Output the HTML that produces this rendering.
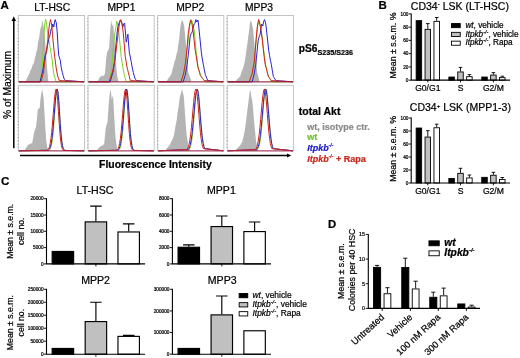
<!DOCTYPE html>
<html lang="en">
<head>
<meta charset="utf-8">
<title>Figure</title>
<style>
html,body{margin:0;padding:0;background:#fff;}
body{width:520px;height:358px;overflow:hidden;}
svg{display:block;font-family:"Liberation Sans", Arial, sans-serif;filter:blur(0.45px);}
svg text{font-family:"Liberation Sans", Arial, sans-serif;stroke:#000;stroke-width:0.22px;}
svg text.c1{stroke:#8c8c8c;}svg text.c2{stroke:#72c02c;}svg text.c3{stroke:#1c1ccc;}svg text.c4{stroke:#c8281e;}
</style>
</head>
<body>
<svg width="520" height="358" viewBox="0 0 520 358">
<rect x="0" y="0" width="520" height="358" fill="#fff"/>
<rect x="18.3" y="15.5" width="66.3" height="66.6" fill="#fff" stroke="#bdbdbd" stroke-width="0.9"/>
<line x1="18.1" y1="18" x2="18.1" y2="81.1" stroke="#8a8a8a" stroke-width="1.1" stroke-dasharray="0.6 2.7"/>
<polygon points="26,82.1 26,80.5 26.75,78.97 27.5,77.35 28.25,75.65 29,74.4 29.73,72.86 30.46,70.31 31.19,69.28 31.91,67.22 32.64,64.78 33.37,64.05 34.1,62.3 34.85,57.84 35.6,56.02 36.35,51.52 37.1,50.2 38.1,42.06 39.1,38.2 39.95,32.08 40.8,27 41.5,26.15 42.2,20 43.2,24 44.2,32 45.2,42.02 46.2,56 47.4,72 48.2,80 48.2,82.1" fill="#b4b4b4"/>
<polyline points="18.8,81.8 40.1,81.8 41.05,75.79 42,70 42.75,57.72 43.5,45 44.6,26 45.6,19 46.6,24 47.8,34 48.5,39.37 49.2,42 50,47.19 50.8,52 51.5,55.81 52.2,60 53.2,70 54.2,76 55.2,78.9 56.2,81.8 84.1,81.8" fill="none" stroke="#7ed321" stroke-width="1.0" stroke-linejoin="round"/>
<polyline points="18.8,81.8 40,81.8 40.83,78.64 41.67,75.06 42.5,72 43.4,66.72 44.3,60.36 45.2,55 46.6,52 47.4,46.13 48.2,42 49,37.85 49.8,36 50.5,31.84 51.2,29 52,27.72 52.8,24 53.8,27 54.5,21.99 55.2,19.6 56.3,23 57.2,32 58,46 58.7,55.3 59.5,57.94 60.3,60.3 61.3,68 62.3,72.4 63.05,75.26 63.8,78 64.55,79.3 65.3,80.6 84.1,81.8" fill="none" stroke="#2a22d6" stroke-width="1.0" stroke-linejoin="round"/>
<polyline points="18.8,81.8 41,81.8 41.83,78.5 42.67,75.29 43.5,72 44.4,64.83 45.3,57.95 46.2,52 47.6,42 49,28 49.8,22.61 50.6,19.6 51.8,26 52.5,34.6 53.2,42 54.6,56 55.4,61.9 56.2,68 57.6,76 58.45,78.25 59.3,80.6 84.1,81.8" fill="none" stroke="#d0201c" stroke-width="1.0" stroke-linejoin="round"/>
<line x1="18.8" y1="81.8" x2="84.1" y2="81.8" stroke="#a01838" stroke-width="0.9"/>
<rect x="88" y="15.5" width="66.2" height="66.6" fill="#fff" stroke="#bdbdbd" stroke-width="0.9"/>
<line x1="87.8" y1="18" x2="87.8" y2="81.1" stroke="#8a8a8a" stroke-width="1.1" stroke-dasharray="0.6 2.7"/>
<polygon points="98,82.1 98,80.5 99,78.75 100,77 101,76.26 102,75.4 103,75.66 104,76 105.1,72.4 106,60 107.1,52.2 108.2,50 109.1,48.2 110.2,30 111.2,20 112.2,26 113.2,24 114.2,38 115.2,52 116.2,66 117.2,76 118.2,80.5 118.2,82.1" fill="#b4b4b4"/>
<polyline points="88.5,81.8 109.1,81.8 109.9,77.81 110.7,74.1 111.5,70 112.35,61.29 113.2,52 114,42.3 114.8,34 115.8,27.78 116.8,21 118,26 119.2,36 120.2,46 121.2,56.3 122.6,66 123.4,70.22 124.2,74.4 125.2,78.2 126.2,81.8 153.7,81.8" fill="none" stroke="#7ed321" stroke-width="1.0" stroke-linejoin="round"/>
<polyline points="88.5,81.8 110.2,81.8 111.13,78.59 112.07,75.17 113,72 113.9,66.68 114.8,60.3 116,44 117.2,32 118,26.56 118.8,24 119.5,21.66 120.2,20 121.6,22 122.8,27 123.8,24 124.6,23 125.4,32 126.2,42.2 127.1,38 127.9,34.1 128.6,44 129.3,52.2 130.3,57 131.3,62.3 132.3,68 133.3,72.4 134.05,75.32 134.8,78 135.55,79.3 136.3,80.6 153.7,81.8" fill="none" stroke="#2a22d6" stroke-width="1.0" stroke-linejoin="round"/>
<polyline points="88.5,81.8 109,81.8 109.7,79.84 110.4,77.78 111.1,75.92 111.8,73.71 112.5,72 113.4,67.6 114.3,63.22 115.2,58.3 116,51.31 116.8,44 117.5,39.15 118.2,32 119.6,23 120.8,19.6 122,24 123.2,32 124.2,44 125.2,56.3 126,60.88 126.8,66 127.55,69.37 128.3,72.4 129.3,76.54 130.3,80.6 153.7,81.8" fill="none" stroke="#d0201c" stroke-width="1.0" stroke-linejoin="round"/>
<line x1="88.5" y1="81.8" x2="153.7" y2="81.8" stroke="#a01838" stroke-width="0.9"/>
<rect x="157.7" y="15.5" width="66.1" height="66.6" fill="#fff" stroke="#bdbdbd" stroke-width="0.9"/>
<line x1="157.5" y1="18" x2="157.5" y2="81.1" stroke="#8a8a8a" stroke-width="1.1" stroke-dasharray="0.6 2.7"/>
<polygon points="167,82.1 167,80.5 167.82,79.28 168.64,78.1 169.46,76.81 170.28,75.9 171.1,74.4 171.9,72.2 172.7,68.71 173.5,66.3 174.3,61.99 175.1,60.3 175.85,57.47 176.6,53.83 177.35,51.92 178.1,46.2 179.15,39.1 180.2,28 181.2,22.27 182.2,20 183.2,22 184.2,26 185.2,36.39 186.2,48.2 187.2,60.8 188.2,72.4 188.95,73.95 189.7,76.42 190.45,78.33 191.2,80.5 191.2,82.1" fill="#b4b4b4"/>
<polyline points="158.2,81.8 181.2,81.8 181.9,79.35 182.6,76.77 183.3,74.22 184,72 184.73,67.7 185.47,62.38 186.2,58.3 186.9,51.63 187.6,46 188.8,34 190,24 191.2,19.6 191.9,20.84 192.6,23 193.4,27.94 194.2,30 195.2,40 196.2,52.2 197.3,61 198.3,68.3 199.05,69.99 199.8,72.32 200.55,74.4 201.3,76.4 202.1,77.6 202.9,78.63 203.7,79.64 204.5,80.72 205.3,81.8 223.3,81.8" fill="none" stroke="#7ed321" stroke-width="1.0" stroke-linejoin="round"/>
<polyline points="158.2,81.8 183.2,81.8 183.97,79.2 184.73,76.73 185.5,74 186.35,68.95 187.2,64.3 188,57 188.8,50 190.2,36.1 191.2,33.58 192.2,32 193.2,27 194.2,24 195,23.41 195.8,19.6 196.8,22 197.9,20 198.6,25 199.3,32 200.3,42 201.3,52.2 202.3,59 203.3,64.3 204.3,69.75 205.3,74.4 206.1,76.34 206.9,78.46 207.7,80.6 223.3,81.8" fill="none" stroke="#2a22d6" stroke-width="1.0" stroke-linejoin="round"/>
<polyline points="158.2,81.8 181,81.8 181.83,79.2 182.67,76.5 183.5,74 184.55,67.9 185.6,62.3 186.3,55.12 187,48 188.2,34 188.9,29.33 189.6,24 190.8,20 192,24 193.2,32 194.2,41 195.2,50.2 196.03,55.13 196.87,60.21 197.7,66.3 198.57,69.26 199.43,72.28 200.3,75.4 201.1,76.46 201.9,77.62 202.7,78.56 203.5,79.56 204.3,80.6 223.3,81.8" fill="none" stroke="#d0201c" stroke-width="1.0" stroke-linejoin="round"/>
<line x1="158.2" y1="81.8" x2="223.3" y2="81.8" stroke="#a01838" stroke-width="0.9"/>
<rect x="227.2" y="15.5" width="66.2" height="66.6" fill="#fff" stroke="#bdbdbd" stroke-width="0.9"/>
<line x1="227" y1="18" x2="227" y2="81.1" stroke="#8a8a8a" stroke-width="1.1" stroke-dasharray="0.6 2.7"/>
<polygon points="236.1,82.1 236.1,80.5 236.9,79.68 237.7,78.86 238.5,78.05 239.3,77.29 240.1,76.4 240.9,74.17 241.7,70.94 242.5,69.83 243.3,67.3 244.1,64.3 244.85,60.91 245.6,56.34 246.35,50.26 247.1,46.2 248.15,37.49 249.2,30 250,22.13 250.8,20.5 252,24 253.2,30 254.2,41.76 255.2,52 256.2,61.02 257.2,72.4 258.2,76.14 259.2,80.5 259.2,82.1" fill="#b4b4b4"/>
<polyline points="227.7,81.8 249.4,81.8 250.33,79.2 251.27,76.49 252.2,74 252.93,69.82 253.67,66.03 254.4,62.3 255.4,49.26 256.4,38.2 257.6,26 258.8,19.8 260,24 260.8,28 261.67,33.09 262.53,40.48 263.4,48.2 264.4,55.54 265.4,64.3 266.17,67.19 266.95,69.97 267.73,73.6 268.5,76.4 269.25,77.78 270,79.1 270.75,80.45 271.5,81.8 292.9,81.8" fill="none" stroke="#7ed321" stroke-width="1.0" stroke-linejoin="round"/>
<polyline points="227.7,81.8 252.2,81.8 253.2,77.8 254.2,74 255,68.93 255.8,64.3 257.2,50 258.2,40.2 259.2,36.67 260.2,34.1 260.9,28.55 261.6,24 262.8,26 263.7,21.24 264.6,19.6 265.8,24 266.7,32 267.7,41 268.7,50.2 269.57,55.56 270.43,60.37 271.3,64.3 272.3,70.32 273.3,76.4 274.17,77.8 275.03,79.2 275.9,80.6 292.9,81.8" fill="none" stroke="#2a22d6" stroke-width="1.0" stroke-linejoin="round"/>
<polyline points="227.7,81.8 249.2,81.8 249.9,79.85 250.6,77.79 251.3,75.79 252,74 252.73,69.97 253.47,65.94 254.2,62.3 255.2,50.98 256.2,38.2 257.4,26 258.6,19.6 259.6,23 260.6,28 261.47,33.62 262.33,40.12 263.2,48.2 264.2,57.06 265.2,64.3 265.98,67.35 266.75,70.07 267.52,73.4 268.3,76.4 269.05,77.31 269.8,78.51 270.55,79.55 271.3,80.6 292.9,81.8" fill="none" stroke="#d0201c" stroke-width="1.0" stroke-linejoin="round"/>
<line x1="227.7" y1="81.8" x2="292.9" y2="81.8" stroke="#a01838" stroke-width="0.9"/>
<rect x="18.3" y="85.3" width="66.3" height="65.8" fill="#fff" stroke="#bdbdbd" stroke-width="0.9"/>
<line x1="18.1" y1="87.8" x2="18.1" y2="150.1" stroke="#8a8a8a" stroke-width="1.1" stroke-dasharray="0.6 2.7"/>
<polygon points="25,151.1 25,149.5 25.75,148.32 26.5,147.37 27.25,146.21 28,144.8 28.82,144.68 29.64,144.03 30.46,143.84 31.28,143.36 32.1,143.4 33.1,138.33 34.1,132.3 35.1,129.4 36.1,126.3 36.9,119.51 37.7,110.2 38.7,108.22 39.7,108.2 40.45,99.18 41.2,94 42.2,89 43.6,98 44.8,118.2 45.5,130.22 46.2,140.4 47,145.33 47.8,149.5 47.8,151.1" fill="#b4b4b4"/>
<polyline points="18.8,150.8 48.3,150.59 49.05,150.28 49.8,149.61 50.55,148.28 51.3,145.87 52.05,141.88 52.8,135.9 53.55,127.79 54.3,117.96 55.05,107.49 55.8,98.03 56.55,91.39 57.3,89 58.05,92.07 58.8,100.39 59.55,111.72 60.3,123.44 61.05,133.5 61.8,140.92 62.55,145.7 63.3,148.43 64.05,149.8 64.8,150.42 84.1,150.8" fill="none" stroke="#7ed321" stroke-width="1.0" stroke-linejoin="round"/>
<polyline points="18.8,150.8 48.2,150.3 48.95,149.72 49.7,148.62 50.45,146.68 51.2,143.53 51.95,138.8 52.7,132.26 53.45,124.01 54.2,114.61 54.95,105.06 55.7,96.74 56.45,91.03 57.2,89 57.95,92.07 58.7,100.39 59.45,111.72 60.2,123.44 60.95,133.5 61.7,140.92 62.45,145.7 63.2,148.43 63.95,149.8 64.7,150.42 84.1,150.8" fill="none" stroke="#2a22d6" stroke-width="1.0" stroke-linejoin="round"/>
<polyline points="18.8,150.8 47.2,150.3 47.95,149.72 48.7,148.62 49.45,146.68 50.2,143.53 50.95,138.8 51.7,132.26 52.45,124.01 53.2,114.61 53.95,105.06 54.7,96.74 55.45,91.03 56.2,89 56.95,92.07 57.7,100.39 58.45,111.72 59.2,123.44 59.95,133.5 60.7,140.92 61.45,145.7 62.2,148.43 62.95,149.8 63.7,150.42 84.1,150.8" fill="none" stroke="#d0201c" stroke-width="1.0" stroke-linejoin="round"/>
<line x1="18.8" y1="150.8" x2="84.1" y2="150.8" stroke="#b02050" stroke-width="0.9"/>
<rect x="88" y="85.3" width="66.2" height="65.8" fill="#fff" stroke="#bdbdbd" stroke-width="0.9"/>
<line x1="87.8" y1="87.8" x2="87.8" y2="150.1" stroke="#8a8a8a" stroke-width="1.1" stroke-dasharray="0.6 2.7"/>
<polygon points="97.5,151.1 97.5,149.5 98.37,148.47 99.23,147.58 100.1,146.4 100.9,146.19 101.7,145.82 102.5,145.38 103.3,144.58 104.1,144.4 104.9,136.38 105.7,128.3 106.6,124.74 107.5,122.2 108.7,104 109.75,93.47 110.8,90 111.8,100 112.8,95 113.5,102.63 114.2,116.2 115.6,138.3 116.4,143.7 117.2,149.5 117.2,151.1" fill="#b4b4b4"/>
<polyline points="88.5,150.8 117.7,150.59 118.45,150.28 119.2,149.61 119.95,148.28 120.7,145.87 121.45,141.88 122.2,135.9 122.95,127.79 123.7,117.96 124.45,107.49 125.2,98.03 125.95,91.39 126.7,89 127.45,92.07 128.2,100.39 128.95,111.72 129.7,123.44 130.45,133.5 131.2,140.92 131.95,145.7 132.7,148.43 133.45,149.8 134.2,150.42 153.7,150.8" fill="none" stroke="#7ed321" stroke-width="1.0" stroke-linejoin="round"/>
<polyline points="88.5,150.8 117.6,150.3 118.35,149.72 119.1,148.62 119.85,146.68 120.6,143.53 121.35,138.8 122.1,132.26 122.85,124.01 123.6,114.61 124.35,105.06 125.1,96.74 125.85,91.03 126.6,89 127.35,92.07 128.1,100.39 128.85,111.72 129.6,123.44 130.35,133.5 131.1,140.92 131.85,145.7 132.6,148.43 133.35,149.8 134.1,150.42 153.7,150.8" fill="none" stroke="#2a22d6" stroke-width="1.0" stroke-linejoin="round"/>
<polyline points="88.5,150.8 116.6,150.3 117.35,149.72 118.1,148.62 118.85,146.68 119.6,143.53 120.35,138.8 121.1,132.26 121.85,124.01 122.6,114.61 123.35,105.06 124.1,96.74 124.85,91.03 125.6,89 126.35,92.07 127.1,100.39 127.85,111.72 128.6,123.44 129.35,133.5 130.1,140.92 130.85,145.7 131.6,148.43 132.35,149.8 133.1,150.42 153.7,150.8" fill="none" stroke="#d0201c" stroke-width="1.0" stroke-linejoin="round"/>
<line x1="88.5" y1="150.8" x2="153.7" y2="150.8" stroke="#b02050" stroke-width="0.9"/>
<rect x="157.7" y="85.3" width="66.1" height="65.8" fill="#fff" stroke="#bdbdbd" stroke-width="0.9"/>
<line x1="157.5" y1="87.8" x2="157.5" y2="150.1" stroke="#8a8a8a" stroke-width="1.1" stroke-dasharray="0.6 2.7"/>
<polygon points="166,151.1 166,149.5 166.82,148.48 167.64,147.36 168.46,146.55 169.28,145.74 170.1,144.4 170.9,142.32 171.7,140.98 172.5,139.17 173.3,137.22 174.1,134.3 174.97,129.2 175.83,123.9 176.7,120.2 177.7,111.72 178.7,106.1 179.4,100.01 180.1,95.86 180.8,94 182.2,89 183,93.51 183.8,96 185.2,116.2 186,127.61 186.8,136.3 187.8,142.26 188.8,147.4 190.2,149.5 190.2,151.1" fill="#b4b4b4"/>
<polyline points="158.2,150.8 188.31,150.22 189.06,149.58 189.81,148.39 190.56,146.34 191.31,143.05 192.06,138.2 192.81,131.58 193.56,123.34 194.31,114.03 195.06,104.65 195.81,96.52 196.56,90.97 197.31,89 198.06,91.03 198.81,96.74 199.56,105.06 200.31,114.61 201.06,124.01 201.81,132.26 202.56,138.8 203.31,143.53 204.06,146.68 204.81,148.62 223.3,150.8" fill="none" stroke="#7ed321" stroke-width="1.0" stroke-linejoin="round"/>
<polyline points="158.2,150.8 188.18,149.62 188.93,148.57 189.68,146.84 190.43,144.12 191.18,140.14 191.93,134.71 192.68,127.81 193.43,119.7 194.18,110.98 194.93,102.53 195.68,95.43 196.43,90.67 197.18,89 197.93,91.03 198.68,96.74 199.43,105.06 200.18,114.61 200.93,124.01 201.68,132.26 202.43,138.8 203.18,143.53 203.93,146.68 204.68,148.62 223.3,150.8" fill="none" stroke="#2a22d6" stroke-width="1.0" stroke-linejoin="round"/>
<polyline points="158.2,150.8 186.88,149.62 187.63,148.57 188.38,146.84 189.13,144.12 189.88,140.14 190.63,134.71 191.38,127.81 192.13,119.7 192.88,110.98 193.63,102.53 194.38,95.43 195.13,90.67 195.88,89 196.63,91.03 197.38,96.74 198.13,105.06 198.88,114.61 199.63,124.01 200.38,132.26 201.13,138.8 201.88,143.53 202.63,146.68 203.38,148.62 223.3,150.8" fill="none" stroke="#d0201c" stroke-width="1.0" stroke-linejoin="round"/>
<line x1="158.2" y1="150.8" x2="223.3" y2="150.8" stroke="#b02050" stroke-width="0.9"/>
<rect x="227.2" y="85.3" width="66.2" height="65.8" fill="#fff" stroke="#bdbdbd" stroke-width="0.9"/>
<line x1="227" y1="87.8" x2="227" y2="150.1" stroke="#8a8a8a" stroke-width="1.1" stroke-dasharray="0.6 2.7"/>
<polygon points="236.1,151.1 236.1,149.5 236.85,148.72 237.6,147.95 238.35,147.17 239.1,146.4 239.85,145.51 240.6,144.66 241.35,142.99 242.1,142.4 242.85,139.14 243.6,136.22 244.35,132.56 245.1,128.3 246.1,121.31 247.1,112.2 248.15,103.96 249.2,96 249.9,90.67 250.6,90.5 251.4,97.49 252.2,100 253.2,110.18 254.2,122.2 255.2,133.07 256.2,142.4 257,146.25 257.8,149.5 257.8,151.1" fill="#b4b4b4"/>
<polyline points="227.7,150.8 256.81,150.22 257.56,149.58 258.31,148.39 259.06,146.34 259.81,143.05 260.56,138.2 261.31,131.58 262.06,123.34 262.81,114.03 263.56,104.65 264.31,96.52 265.06,90.97 265.81,89 266.56,91.03 267.31,96.74 268.06,105.06 268.81,114.61 269.56,124.01 270.31,132.26 271.06,138.8 271.81,143.53 272.56,146.68 273.31,148.62 292.9,150.8" fill="none" stroke="#7ed321" stroke-width="1.0" stroke-linejoin="round"/>
<polyline points="227.7,150.8 256.68,149.62 257.43,148.57 258.18,146.84 258.93,144.12 259.68,140.14 260.43,134.71 261.18,127.81 261.93,119.7 262.68,110.98 263.43,102.53 264.18,95.43 264.93,90.67 265.68,89 266.43,91.03 267.18,96.74 267.93,105.06 268.68,114.61 269.43,124.01 270.18,132.26 270.93,138.8 271.68,143.53 272.43,146.68 273.18,148.62 292.9,150.8" fill="none" stroke="#2a22d6" stroke-width="1.0" stroke-linejoin="round"/>
<polyline points="227.7,150.8 255.38,149.62 256.13,148.57 256.88,146.84 257.63,144.12 258.38,140.14 259.13,134.71 259.88,127.81 260.63,119.7 261.38,110.98 262.13,102.53 262.88,95.43 263.63,90.67 264.38,89 265.13,91.03 265.88,96.74 266.63,105.06 267.38,114.61 268.13,124.01 268.88,132.26 269.63,138.8 270.38,143.53 271.13,146.68 271.88,148.62 292.9,150.8" fill="none" stroke="#d0201c" stroke-width="1.0" stroke-linejoin="round"/>
<line x1="227.7" y1="150.8" x2="292.9" y2="150.8" stroke="#b02050" stroke-width="0.9"/>
<line x1="13.8" y1="148.3" x2="13.8" y2="20" stroke="#000" stroke-width="1.5"/>
<polygon points="13.8,16.3 11.6,21 16,21" fill="#000"/>
<line x1="20" y1="155.5" x2="288" y2="155.5" stroke="#000" stroke-width="1.5"/>
<polygon points="291.3,155.5 287,153.5 287,157.5" fill="#000"/>
<text x="0.5" y="9.3" font-size="11.5" text-anchor="start" font-weight="bold" font-style="normal" fill="#000">A</text>
<text x="378.5" y="9.3" font-size="11.5" text-anchor="start" font-weight="bold" font-style="normal" fill="#000">B</text>
<text x="0.9" y="185.4" font-size="11.6" text-anchor="start" font-weight="bold" font-style="normal" fill="#000">C</text>
<text x="327.9" y="227.7" font-size="11.3" text-anchor="start" font-weight="bold" font-style="normal" fill="#000">D</text>
<text x="52.2" y="10.7" font-size="10.3" text-anchor="middle" font-weight="normal" font-style="normal" fill="#000">LT-HSC</text>
<text x="121.4" y="10.7" font-size="10.3" text-anchor="middle" font-weight="normal" font-style="normal" fill="#000">MPP1</text>
<text x="190.3" y="10.7" font-size="10.3" text-anchor="middle" font-weight="normal" font-style="normal" fill="#000">MPP2</text>
<text x="259" y="10.7" font-size="10.3" text-anchor="middle" font-weight="normal" font-style="normal" fill="#000">MPP3</text>
<text transform="translate(10.6 85) rotate(-90)" font-size="10.3" text-anchor="middle" font-weight="normal" fill="#000">% of Maximum</text>
<text x="155.4" y="167.5" font-size="10.4" text-anchor="middle" font-weight="bold" font-style="normal" fill="#000">Fluorescence Intensity</text>
<text x="298.8" y="52" font-size="10.2" font-weight="bold">pS6<tspan font-size="7.2" dy="3">S235/S236</tspan></text>
<text x="298.8" y="115" font-size="10.5" text-anchor="start" font-weight="bold" font-style="normal" fill="#000">total Akt</text>
<text x="307.2" y="129.6" font-size="9" text-anchor="start" font-weight="bold" font-style="normal" fill="#8c8c8c" class="c1">wt, isotype ctr.</text>
<text x="307.2" y="140.2" font-size="9" text-anchor="start" font-weight="bold" font-style="normal" fill="#72c02c" class="c2">wt</text>
<text class="c3" x="307.2" y="150.8" font-size="9" font-weight="bold" font-style="italic" fill="#1c1ccc">Itpkb<tspan font-size="5" dy="-3.6">-/-</tspan></text>
<text class="c4" x="307.2" y="161.6" font-size="9" font-weight="bold" fill="#c8281e"><tspan font-style="italic">Itpkb</tspan><tspan font-size="5" dy="-3.6" font-style="italic">-/-</tspan><tspan dy="3.6"> + Rapa</tspan></text>
<text x="410.8" y="9.8" font-size="10.5">CD34<tspan font-size="6.2" dy="-3.8">-</tspan><tspan dy="3.8"> LSK (LT-HSC)</tspan></text>
<rect x="416.15" y="20.65" width="5.5" height="59.5" fill="#000" stroke="#000" stroke-width="0.9"/>
<path d="M427.8 28.9 V23.6 M426 23.6 H429.6" stroke="#000" stroke-width="0.9" fill="none"/>
<rect x="425.05" y="29.35" width="5.5" height="50.8" fill="#c0c0c0" stroke="#000" stroke-width="0.9"/>
<path d="M436.7 20.9 V17.5 M434.9 17.5 H438.5" stroke="#000" stroke-width="0.9" fill="none"/>
<rect x="433.95" y="21.35" width="5.5" height="58.8" fill="#fff" stroke="#000" stroke-width="0.9"/>
<rect x="448.85" y="77.05" width="5.5" height="3.1" fill="#000" stroke="#000" stroke-width="0.9"/>
<path d="M460.5 71.5 V67.4 M458.7 67.4 H462.3" stroke="#000" stroke-width="0.9" fill="none"/>
<rect x="457.75" y="71.95" width="5.5" height="8.2" fill="#c0c0c0" stroke="#000" stroke-width="0.9"/>
<path d="M469.4 76.2 V74.6 M467.6 74.6 H471.2" stroke="#000" stroke-width="0.9" fill="none"/>
<rect x="466.65" y="76.65" width="5.5" height="3.5" fill="#fff" stroke="#000" stroke-width="0.9"/>
<rect x="481.75" y="77.05" width="5.5" height="3.1" fill="#000" stroke="#000" stroke-width="0.9"/>
<path d="M493.4 74.6 V72.6 M491.6 72.6 H495.2" stroke="#000" stroke-width="0.9" fill="none"/>
<rect x="490.65" y="75.05" width="5.5" height="5.1" fill="#c0c0c0" stroke="#000" stroke-width="0.9"/>
<path d="M502.3 77.2 V76.2 M500.5 76.2 H504.1" stroke="#000" stroke-width="0.9" fill="none"/>
<rect x="499.55" y="77.65" width="5.5" height="2.5" fill="#fff" stroke="#000" stroke-width="0.9"/>
<path d="M411.2 13.4 V80.15 H510" stroke="#000" stroke-width="1.1" fill="none"/>
<line x1="408.8" y1="80.15" x2="411.2" y2="80.15" stroke="#000" stroke-width="0.9"/>
<text x="408.4" y="81.8" font-size="4.7" text-anchor="end" font-weight="normal" font-style="normal" fill="#000">0</text>
<line x1="408.8" y1="66.9" x2="411.2" y2="66.9" stroke="#000" stroke-width="0.9"/>
<text x="408.4" y="68.55" font-size="4.7" text-anchor="end" font-weight="normal" font-style="normal" fill="#000">20</text>
<line x1="408.8" y1="53.65" x2="411.2" y2="53.65" stroke="#000" stroke-width="0.9"/>
<text x="408.4" y="55.3" font-size="4.7" text-anchor="end" font-weight="normal" font-style="normal" fill="#000">40</text>
<line x1="408.8" y1="40.4" x2="411.2" y2="40.4" stroke="#000" stroke-width="0.9"/>
<text x="408.4" y="42.05" font-size="4.7" text-anchor="end" font-weight="normal" font-style="normal" fill="#000">60</text>
<line x1="408.8" y1="27.15" x2="411.2" y2="27.15" stroke="#000" stroke-width="0.9"/>
<text x="408.4" y="28.8" font-size="4.7" text-anchor="end" font-weight="normal" font-style="normal" fill="#000">80</text>
<line x1="408.8" y1="13.9" x2="411.2" y2="13.9" stroke="#000" stroke-width="0.9"/>
<text x="408.4" y="15.55" font-size="4.7" text-anchor="end" font-weight="normal" font-style="normal" fill="#000">100</text>
<line x1="427.8" y1="80.15" x2="427.8" y2="82.45" stroke="#000" stroke-width="0.9"/>
<line x1="460.5" y1="80.15" x2="460.5" y2="82.45" stroke="#000" stroke-width="0.9"/>
<line x1="493.4" y1="80.15" x2="493.4" y2="82.45" stroke="#000" stroke-width="0.9"/>
<text x="427.8" y="91.05" font-size="8.6" text-anchor="middle" font-weight="normal" font-style="normal" fill="#000">G0/G1</text>
<text x="460.5" y="91.05" font-size="8.6" text-anchor="middle" font-weight="normal" font-style="normal" fill="#000">S</text>
<text x="493.4" y="91.05" font-size="8.6" text-anchor="middle" font-weight="normal" font-style="normal" fill="#000">G2/M</text>
<text transform="translate(396.3 45.43) rotate(-90)" font-size="8.8" text-anchor="middle" font-weight="normal" fill="#000">Mean ± s.e.m. %</text>
<text x="409.8" y="111.3" font-size="10.5">CD34<tspan font-size="6.2" dy="-3.8">+</tspan><tspan dy="3.8"> LSK (MPP1-3)</tspan></text>
<rect x="416.15" y="128.05" width="5.5" height="54.95" fill="#000" stroke="#000" stroke-width="0.9"/>
<path d="M427.8 136.6 V130.7 M426 130.7 H429.6" stroke="#000" stroke-width="0.9" fill="none"/>
<rect x="425.05" y="137.05" width="5.5" height="45.95" fill="#c0c0c0" stroke="#000" stroke-width="0.9"/>
<path d="M436.7 127.3 V124.2 M434.9 124.2 H438.5" stroke="#000" stroke-width="0.9" fill="none"/>
<rect x="433.95" y="127.75" width="5.5" height="55.25" fill="#fff" stroke="#000" stroke-width="0.9"/>
<rect x="448.85" y="178.45" width="5.5" height="4.55" fill="#000" stroke="#000" stroke-width="0.9"/>
<path d="M460.5 172.9 V168.3 M458.7 168.3 H462.3" stroke="#000" stroke-width="0.9" fill="none"/>
<rect x="457.75" y="173.35" width="5.5" height="9.65" fill="#c0c0c0" stroke="#000" stroke-width="0.9"/>
<path d="M469.4 177.5 V175 M467.6 175 H471.2" stroke="#000" stroke-width="0.9" fill="none"/>
<rect x="466.65" y="177.95" width="5.5" height="5.05" fill="#fff" stroke="#000" stroke-width="0.9"/>
<rect x="481.75" y="177.35" width="5.5" height="5.65" fill="#000" stroke="#000" stroke-width="0.9"/>
<path d="M493.4 174.8 V172.3 M491.6 172.3 H495.2" stroke="#000" stroke-width="0.9" fill="none"/>
<rect x="490.65" y="175.25" width="5.5" height="7.75" fill="#c0c0c0" stroke="#000" stroke-width="0.9"/>
<path d="M502.3 179 V177.5 M500.5 177.5 H504.1" stroke="#000" stroke-width="0.9" fill="none"/>
<rect x="499.55" y="179.45" width="5.5" height="3.55" fill="#fff" stroke="#000" stroke-width="0.9"/>
<path d="M411.2 117.5 V183 H510" stroke="#000" stroke-width="1.1" fill="none"/>
<line x1="408.8" y1="183" x2="411.2" y2="183" stroke="#000" stroke-width="0.9"/>
<text x="408.4" y="184.65" font-size="4.7" text-anchor="end" font-weight="normal" font-style="normal" fill="#000">0</text>
<line x1="408.8" y1="170" x2="411.2" y2="170" stroke="#000" stroke-width="0.9"/>
<text x="408.4" y="171.65" font-size="4.7" text-anchor="end" font-weight="normal" font-style="normal" fill="#000">20</text>
<line x1="408.8" y1="157" x2="411.2" y2="157" stroke="#000" stroke-width="0.9"/>
<text x="408.4" y="158.65" font-size="4.7" text-anchor="end" font-weight="normal" font-style="normal" fill="#000">40</text>
<line x1="408.8" y1="144" x2="411.2" y2="144" stroke="#000" stroke-width="0.9"/>
<text x="408.4" y="145.65" font-size="4.7" text-anchor="end" font-weight="normal" font-style="normal" fill="#000">60</text>
<line x1="408.8" y1="131" x2="411.2" y2="131" stroke="#000" stroke-width="0.9"/>
<text x="408.4" y="132.65" font-size="4.7" text-anchor="end" font-weight="normal" font-style="normal" fill="#000">80</text>
<line x1="408.8" y1="118" x2="411.2" y2="118" stroke="#000" stroke-width="0.9"/>
<text x="408.4" y="119.65" font-size="4.7" text-anchor="end" font-weight="normal" font-style="normal" fill="#000">100</text>
<line x1="427.8" y1="183" x2="427.8" y2="185.3" stroke="#000" stroke-width="0.9"/>
<line x1="460.5" y1="183" x2="460.5" y2="185.3" stroke="#000" stroke-width="0.9"/>
<line x1="493.4" y1="183" x2="493.4" y2="185.3" stroke="#000" stroke-width="0.9"/>
<text x="427.8" y="193.9" font-size="8.6" text-anchor="middle" font-weight="normal" font-style="normal" fill="#000">G0/G1</text>
<text x="460.5" y="193.9" font-size="8.6" text-anchor="middle" font-weight="normal" font-style="normal" fill="#000">S</text>
<text x="493.4" y="193.9" font-size="8.6" text-anchor="middle" font-weight="normal" font-style="normal" fill="#000">G2/M</text>
<text transform="translate(396.3 148.9) rotate(-90)" font-size="8.8" text-anchor="middle" font-weight="normal" fill="#000">Mean ± s.e.m. %</text>
<rect x="451.55" y="23.55" width="8.7" height="4.1" fill="#000" stroke="#000" stroke-width="0.9"/>
<text x="465.4" y="27.8" font-size="8.2"><tspan font-style="italic">wt</tspan>, vehicle</text>
<rect x="451.55" y="32.35" width="8.7" height="4.1" fill="#c0c0c0" stroke="#000" stroke-width="0.9"/>
<text x="465.4" y="36.6" font-size="8.2"><tspan font-style="italic">Itpkb</tspan><tspan font-size="5.58" dy="-3" font-style="italic">-/-</tspan><tspan dy="3">, vehicle</tspan></text>
<rect x="451.55" y="41.15" width="8.7" height="4.1" fill="#fff" stroke="#000" stroke-width="0.9"/>
<text x="465.4" y="45.4" font-size="8.2"><tspan font-style="italic">Itpkb</tspan><tspan font-size="5.58" dy="-3" font-style="italic">-/-</tspan><tspan dy="3">, Rapa</tspan></text>
<rect x="52.17" y="251.47" width="21.45" height="12.42" fill="#000" stroke="#000" stroke-width="1.15"/>
<path d="M95.9 221.3 V206.1 M90.15 206.1 H101.65" stroke="#000" stroke-width="1.15" fill="none"/>
<rect x="85.18" y="221.88" width="21.45" height="42.02" fill="#c0c0c0" stroke="#000" stroke-width="1.15"/>
<path d="M128.7 231.4 V223.8 M122.95 223.8 H134.45" stroke="#000" stroke-width="1.15" fill="none"/>
<rect x="117.97" y="231.97" width="21.45" height="31.92" fill="#fff" stroke="#000" stroke-width="1.15"/>
<path d="M46.5 198.2 V263.9 H145.1" stroke="#000" stroke-width="1.1" fill="none"/>
<line x1="43.9" y1="263.9" x2="46.5" y2="263.9" stroke="#000" stroke-width="0.9"/>
<text x="43.5" y="265.55" font-size="4.7" text-anchor="end" font-weight="normal" font-style="normal" fill="#000">0</text>
<line x1="43.9" y1="247.6" x2="46.5" y2="247.6" stroke="#000" stroke-width="0.9"/>
<text x="43.5" y="249.25" font-size="4.7" text-anchor="end" font-weight="normal" font-style="normal" fill="#000">5000</text>
<line x1="43.9" y1="231.3" x2="46.5" y2="231.3" stroke="#000" stroke-width="0.9"/>
<text x="43.5" y="232.95" font-size="4.7" text-anchor="end" font-weight="normal" font-style="normal" fill="#000">10000</text>
<line x1="43.9" y1="215" x2="46.5" y2="215" stroke="#000" stroke-width="0.9"/>
<text x="43.5" y="216.65" font-size="4.7" text-anchor="end" font-weight="normal" font-style="normal" fill="#000">15000</text>
<line x1="43.9" y1="198.7" x2="46.5" y2="198.7" stroke="#000" stroke-width="0.9"/>
<text x="43.5" y="200.35" font-size="4.7" text-anchor="end" font-weight="normal" font-style="normal" fill="#000">20000</text>
<line x1="95.9" y1="263.9" x2="95.9" y2="266.4" stroke="#000" stroke-width="0.9"/>
<text x="95" y="193.7" font-size="10.6" text-anchor="middle" font-weight="normal" font-style="normal" fill="#000">LT-HSC</text>
<text transform="translate(13.3 231.3) rotate(-90)" font-size="8.7" text-anchor="middle" font-weight="normal" fill="#000">Mean ± s.e.m.</text>
<text transform="translate(24.3 231.3) rotate(-90)" font-size="8.7" text-anchor="middle" font-weight="normal" fill="#000">cell no.</text>
<path d="M188.8 246.7 V244.9 M183.05 244.9 H194.55" stroke="#000" stroke-width="1.15" fill="none"/>
<rect x="178.07" y="247.27" width="21.45" height="16.62" fill="#000" stroke="#000" stroke-width="1.15"/>
<path d="M221.8 226 V216 M216.05 216 H227.55" stroke="#000" stroke-width="1.15" fill="none"/>
<rect x="211.07" y="226.57" width="21.45" height="37.32" fill="#c0c0c0" stroke="#000" stroke-width="1.15"/>
<path d="M254.6 231 V222 M248.85 222 H260.35" stroke="#000" stroke-width="1.15" fill="none"/>
<rect x="243.88" y="231.57" width="21.45" height="32.32" fill="#fff" stroke="#000" stroke-width="1.15"/>
<path d="M172.4 198.2 V263.9 H271" stroke="#000" stroke-width="1.1" fill="none"/>
<line x1="169.8" y1="263.9" x2="172.4" y2="263.9" stroke="#000" stroke-width="0.9"/>
<text x="169.4" y="265.55" font-size="4.7" text-anchor="end" font-weight="normal" font-style="normal" fill="#000">0</text>
<line x1="169.8" y1="247.6" x2="172.4" y2="247.6" stroke="#000" stroke-width="0.9"/>
<text x="169.4" y="249.25" font-size="4.7" text-anchor="end" font-weight="normal" font-style="normal" fill="#000">2000</text>
<line x1="169.8" y1="231.3" x2="172.4" y2="231.3" stroke="#000" stroke-width="0.9"/>
<text x="169.4" y="232.95" font-size="4.7" text-anchor="end" font-weight="normal" font-style="normal" fill="#000">4000</text>
<line x1="169.8" y1="215" x2="172.4" y2="215" stroke="#000" stroke-width="0.9"/>
<text x="169.4" y="216.65" font-size="4.7" text-anchor="end" font-weight="normal" font-style="normal" fill="#000">6000</text>
<line x1="169.8" y1="198.7" x2="172.4" y2="198.7" stroke="#000" stroke-width="0.9"/>
<text x="169.4" y="200.35" font-size="4.7" text-anchor="end" font-weight="normal" font-style="normal" fill="#000">8000</text>
<line x1="221.8" y1="263.9" x2="221.8" y2="266.4" stroke="#000" stroke-width="0.9"/>
<text x="221.4" y="193.7" font-size="10.6" text-anchor="middle" font-weight="normal" font-style="normal" fill="#000">MPP1</text>
<rect x="52.17" y="348.47" width="21.45" height="5.73" fill="#000" stroke="#000" stroke-width="1.15"/>
<path d="M95.9 321 V302.2 M90.15 302.2 H101.65" stroke="#000" stroke-width="1.15" fill="none"/>
<rect x="85.18" y="321.57" width="21.45" height="32.62" fill="#c0c0c0" stroke="#000" stroke-width="1.15"/>
<path d="M128.7 335.8 V335.3 M122.95 335.3 H134.45" stroke="#000" stroke-width="1.15" fill="none"/>
<rect x="117.97" y="336.38" width="21.45" height="17.82" fill="#fff" stroke="#000" stroke-width="1.15"/>
<path d="M46.5 288.8 V354.2 H145.1" stroke="#000" stroke-width="1.1" fill="none"/>
<line x1="43.9" y1="354.2" x2="46.5" y2="354.2" stroke="#000" stroke-width="0.9"/>
<text x="43.5" y="355.85" font-size="4.7" text-anchor="end" font-weight="normal" font-style="normal" fill="#000">0</text>
<line x1="43.9" y1="341.22" x2="46.5" y2="341.22" stroke="#000" stroke-width="0.9"/>
<text x="43.5" y="342.87" font-size="4.7" text-anchor="end" font-weight="normal" font-style="normal" fill="#000">50000</text>
<line x1="43.9" y1="328.24" x2="46.5" y2="328.24" stroke="#000" stroke-width="0.9"/>
<text x="43.5" y="329.89" font-size="4.7" text-anchor="end" font-weight="normal" font-style="normal" fill="#000">100000</text>
<line x1="43.9" y1="315.26" x2="46.5" y2="315.26" stroke="#000" stroke-width="0.9"/>
<text x="43.5" y="316.91" font-size="4.7" text-anchor="end" font-weight="normal" font-style="normal" fill="#000">150000</text>
<line x1="43.9" y1="302.28" x2="46.5" y2="302.28" stroke="#000" stroke-width="0.9"/>
<text x="43.5" y="303.93" font-size="4.7" text-anchor="end" font-weight="normal" font-style="normal" fill="#000">200000</text>
<line x1="43.9" y1="289.3" x2="46.5" y2="289.3" stroke="#000" stroke-width="0.9"/>
<text x="43.5" y="290.95" font-size="4.7" text-anchor="end" font-weight="normal" font-style="normal" fill="#000">250000</text>
<line x1="95.9" y1="354.2" x2="95.9" y2="356.7" stroke="#000" stroke-width="0.9"/>
<text x="95.6" y="283.5" font-size="10.6" text-anchor="middle" font-weight="normal" font-style="normal" fill="#000">MPP2</text>
<text transform="translate(13.3 322.7) rotate(-90)" font-size="8.7" text-anchor="middle" font-weight="normal" fill="#000">Mean ± s.e.m.</text>
<text transform="translate(24.3 322.7) rotate(-90)" font-size="8.7" text-anchor="middle" font-weight="normal" fill="#000">cell no.</text>
<rect x="178.07" y="348.47" width="21.45" height="5.73" fill="#000" stroke="#000" stroke-width="1.15"/>
<path d="M221.8 314.3 V296 M216.05 296 H227.55" stroke="#000" stroke-width="1.15" fill="none"/>
<rect x="211.07" y="314.88" width="21.45" height="39.32" fill="#c0c0c0" stroke="#000" stroke-width="1.15"/>
<rect x="243.88" y="330.77" width="21.45" height="23.43" fill="#fff" stroke="#000" stroke-width="1.15"/>
<path d="M172.4 288.8 V354.2 H271" stroke="#000" stroke-width="1.1" fill="none"/>
<line x1="169.8" y1="354.2" x2="172.4" y2="354.2" stroke="#000" stroke-width="0.9"/>
<text x="169.4" y="355.85" font-size="4.7" text-anchor="end" font-weight="normal" font-style="normal" fill="#000">0</text>
<line x1="169.8" y1="332.57" x2="172.4" y2="332.57" stroke="#000" stroke-width="0.9"/>
<text x="169.4" y="334.22" font-size="4.7" text-anchor="end" font-weight="normal" font-style="normal" fill="#000">100000</text>
<line x1="169.8" y1="310.93" x2="172.4" y2="310.93" stroke="#000" stroke-width="0.9"/>
<text x="169.4" y="312.58" font-size="4.7" text-anchor="end" font-weight="normal" font-style="normal" fill="#000">200000</text>
<line x1="169.8" y1="289.3" x2="172.4" y2="289.3" stroke="#000" stroke-width="0.9"/>
<text x="169.4" y="290.95" font-size="4.7" text-anchor="end" font-weight="normal" font-style="normal" fill="#000">300000</text>
<line x1="221.8" y1="354.2" x2="221.8" y2="356.7" stroke="#000" stroke-width="0.9"/>
<text x="222.2" y="283.5" font-size="10.6" text-anchor="middle" font-weight="normal" font-style="normal" fill="#000">MPP3</text>
<rect x="239.15" y="293.45" width="8.6" height="4.3" fill="#000" stroke="#000" stroke-width="0.9"/>
<text x="252.5" y="297.9" font-size="8.4"><tspan font-style="italic">wt</tspan>, vehicle</text>
<rect x="239.15" y="302.65" width="8.6" height="4.3" fill="#c0c0c0" stroke="#000" stroke-width="0.9"/>
<text x="252.5" y="307.1" font-size="8.4"><tspan font-style="italic">Itpkb</tspan><tspan font-size="5.71" dy="-3" font-style="italic">-/-</tspan><tspan dy="3">, vehicle</tspan></text>
<rect x="239.15" y="311.65" width="8.6" height="4.3" fill="#fff" stroke="#000" stroke-width="0.9"/>
<text x="252.5" y="316.1" font-size="8.4"><tspan font-style="italic">Itpkb</tspan><tspan font-size="5.71" dy="-3" font-style="italic">-/-</tspan><tspan dy="3">, Rapa</tspan></text>
<path d="M377.1 266.9 V265.4 M375 265.4 H379.2" stroke="#000" stroke-width="0.9" fill="none"/>
<rect x="373.55" y="267.35" width="7.1" height="41.05" fill="#000" stroke="#000" stroke-width="0.9"/>
<path d="M387.45 293.3 V287.7 M385.35 287.7 H389.55" stroke="#000" stroke-width="0.9" fill="none"/>
<rect x="384.05" y="293.75" width="6.8" height="14.65" fill="#fff" stroke="#000" stroke-width="0.9"/>
<path d="M405.3 267.1 V258.2 M403.2 258.2 H407.4" stroke="#000" stroke-width="0.9" fill="none"/>
<rect x="401.75" y="267.55" width="7.1" height="40.85" fill="#000" stroke="#000" stroke-width="0.9"/>
<path d="M415.65 288.5 V281.2 M413.55 281.2 H417.75" stroke="#000" stroke-width="0.9" fill="none"/>
<rect x="412.25" y="288.95" width="6.8" height="19.45" fill="#fff" stroke="#000" stroke-width="0.9"/>
<path d="M433.3 296.8 V292.2 M431.2 292.2 H435.4" stroke="#000" stroke-width="0.9" fill="none"/>
<rect x="429.75" y="297.25" width="7.1" height="11.15" fill="#000" stroke="#000" stroke-width="0.9"/>
<path d="M443.65 295.4 V288.1 M441.55 288.1 H445.75" stroke="#000" stroke-width="0.9" fill="none"/>
<rect x="440.25" y="295.85" width="6.8" height="12.55" fill="#fff" stroke="#000" stroke-width="0.9"/>
<rect x="457.75" y="303.95" width="7.1" height="4.45" fill="#000" stroke="#000" stroke-width="0.9"/>
<path d="M471.65 306.6 V305.2 M469.55 305.2 H473.75" stroke="#000" stroke-width="0.9" fill="none"/>
<rect x="468.25" y="307.05" width="6.8" height="1.35" fill="#fff" stroke="#000" stroke-width="0.9"/>
<path d="M368.3 233.9 V308.4 H480" stroke="#000" stroke-width="1.1" fill="none"/>
<line x1="365.7" y1="308.4" x2="368.3" y2="308.4" stroke="#000" stroke-width="0.9"/>
<text x="364.9" y="310.3" font-size="5.3" text-anchor="end" font-weight="normal" font-style="normal" fill="#000">0</text>
<line x1="365.7" y1="283.73" x2="368.3" y2="283.73" stroke="#000" stroke-width="0.9"/>
<text x="364.9" y="285.63" font-size="5.3" text-anchor="end" font-weight="normal" font-style="normal" fill="#000">5</text>
<line x1="365.7" y1="259.07" x2="368.3" y2="259.07" stroke="#000" stroke-width="0.9"/>
<text x="364.9" y="260.97" font-size="5.3" text-anchor="end" font-weight="normal" font-style="normal" fill="#000">10</text>
<line x1="365.7" y1="234.4" x2="368.3" y2="234.4" stroke="#000" stroke-width="0.9"/>
<text x="364.9" y="236.3" font-size="5.3" text-anchor="end" font-weight="normal" font-style="normal" fill="#000">15</text>
<line x1="382.2" y1="308.4" x2="382.2" y2="311" stroke="#000" stroke-width="0.9"/>
<text transform="translate(384.9 318) rotate(-42.5)" font-size="9.3" text-anchor="end">Untreated</text>
<line x1="410.4" y1="308.4" x2="410.4" y2="311" stroke="#000" stroke-width="0.9"/>
<text transform="translate(413.1 318) rotate(-42.5)" font-size="9.3" text-anchor="end">Vehicle</text>
<line x1="438.3" y1="308.4" x2="438.3" y2="311" stroke="#000" stroke-width="0.9"/>
<text transform="translate(441 318) rotate(-42.5)" font-size="9.3" text-anchor="end">100 nM Rapa</text>
<line x1="466.4" y1="308.4" x2="466.4" y2="311" stroke="#000" stroke-width="0.9"/>
<text transform="translate(469.1 318) rotate(-42.5)" font-size="9.3" text-anchor="end">300 nM Rapa</text>
<text transform="translate(344 271.1) rotate(-90)" font-size="8.8" text-anchor="middle" font-weight="normal" fill="#000">Mean ± s.e.m.</text>
<text transform="translate(355.3 269.9) rotate(-90)" font-size="8.8" text-anchor="middle" font-weight="normal" fill="#000">Colonies per 40 HSC</text>
<rect x="428.95" y="240.85" width="10.3" height="4.9" fill="#000" stroke="#000" stroke-width="0.9"/>
<rect x="428.95" y="250.85" width="10.3" height="4.9" fill="#fff" stroke="#000" stroke-width="0.9"/>
<text x="444.3" y="245.5" font-size="10.3" text-anchor="start" font-weight="bold" font-style="italic" fill="#000">wt</text>
<text x="444.3" y="256" font-size="10.3" font-weight="bold" font-style="italic">Itpkb<tspan font-size="6" dy="-3.6">-/-</tspan></text>
</svg>
</body>
</html>
